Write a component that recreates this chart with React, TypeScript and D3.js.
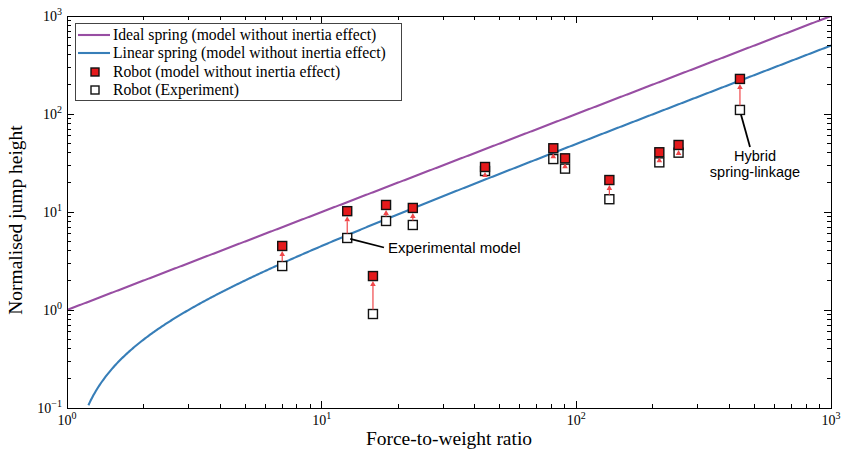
import React from "react";
import * as d3 from "d3";

// ---- data ----
const forceRatio = [7, 12.6, 15.9, 17.9, 22.8, 43.8, 81.2, 90.3, 134.8, 211.8, 252, 439];
const modelHeight = [4.5, 10.2, 2.22, 11.8, 11.0, 28.8, 44.7, 35.3, 21.2, 40.7, 48.3, 228];
const experimentHeight = [2.81, 5.43, 0.91, 8.1, 7.37, 26.2, 34.7, 27.7, 13.5, 32.1, 40.3, 110];
const xDecades = [0, 1, 2, 3];
const yDecades = [-1, 0, 1, 2, 3];
const legendLabels = [
  "Ideal spring (model without inertia effect)",
  "Linear spring (model without inertia effect)",
  "Robot (model without inertia effect)",
  "Robot (Experiment)",
];
// theoretical model curves (no inertia)
const idealSpring = (r: number) => r;
const linearSpring = (r: number) => (r - 1) / 2;

const W = 841, H = 454;
const L = 67, R = 831, T = 16, B = 408;
const PURPLE = "#984ea3", BLUE = "#377eb8", RED = "#e41a1c", ARROW = "#f0474a";
const SERIF = "Liberation Serif, DejaVu Serif, serif";
const SANS = "Liberation Sans, Arial, Helvetica, sans-serif";

export default function App() {
  const x = d3.scaleLog().domain([1, 1000]).range([L, R]);
  const y = d3.scaleLog().domain([0.1, 1000]).range([B, T]);

  const samples: number[] = [];
  for (let i = 0; i <= 600; i++) samples.push(Math.pow(10, (3 * i) / 600));
  const linSamples: number[] = [];
  for (let i = 0; i <= 600; i++) linSamples.push(1.2 * Math.pow(1000 / 1.2, i / 600));
  const line = d3.line<number>();
  const idealPath = line(samples.map((r) => [x(r), y(idealSpring(r))]));
  const linPath = line(
    linSamples.filter((r) => linearSpring(r) >= 0.1).map((r) => [x(r), y(linearSpring(r))])
  );

  const xMinor: number[] = [];
  for (let d = 0; d < 3; d++) for (let k = 2; k <= 9; k++) xMinor.push(k * Math.pow(10, d));
  const yMinor: number[] = [];
  for (let d = -1; d < 3; d++) for (let k = 2; k <= 9; k++) yMinor.push(k * Math.pow(10, d));

  const MS = 9;
  const majorLen = 7, minorLen = 4;

  const arrows = forceRatio.map((r, i) => {
    const px = x(r);
    const y1 = y(experimentHeight[i]) - MS / 2;
    const tip = y(modelHeight[i]) + MS / 2 + 0.5;
    return { px, y1, tip };
  });

  const expIdx = 1;
  const hybIdx = 11;

  return (
    <svg width={W} height={H} style={{ position: "absolute", left: 0, top: 0, background: "#fff" }}>
      <defs>
        <clipPath id="plot">
          <rect x={L} y={T} width={R - L} height={B - T} />
        </clipPath>
      </defs>
      <rect x={0} y={0} width={W} height={H} fill="#fff" />

      <g clipPath="url(#plot)" fill="none" strokeWidth={2.1}>
        <path d={idealPath || ""} stroke={PURPLE} />
        <path d={linPath || ""} stroke={BLUE} />
      </g>

      {forceRatio.map((r, i) => (
        <rect
          key={"e" + i}
          x={x(r) - MS / 2}
          y={y(experimentHeight[i]) - MS / 2}
          width={MS}
          height={MS}
          fill="#fff"
          stroke="#111"
          strokeWidth={1.4}
        />
      ))}

      {arrows.map((a, i) => {
        const hl = 5, hw = 2.8;
        const base = a.tip + hl;
        return (
          <g key={"a" + i}>
            {a.y1 > base && (
              <line x1={a.px} x2={a.px} y1={a.y1} y2={base} stroke={ARROW} strokeWidth={1.2} />
            )}
            <path d={`M${a.px},${a.tip} L${a.px - hw},${base} L${a.px + hw},${base} Z`} fill={ARROW} />
          </g>
        );
      })}

      {forceRatio.map((r, i) => (
        <rect
          key={"m" + i}
          x={x(r) - MS / 2}
          y={y(modelHeight[i]) - MS / 2}
          width={MS}
          height={MS}
          fill={RED}
          stroke="#111"
          strokeWidth={1.4}
        />
      ))}

      <line
        x1={x(forceRatio[expIdx]) + 3}
        y1={y(experimentHeight[expIdx]) + 1}
        x2={384}
        y2={247.5}
        stroke="#000"
        strokeWidth={1.8}
      />
      <text x={388} y={253} fontFamily={SANS} fontSize={15} fill="#000">
        Experimental model
      </text>
      <line
        x1={x(forceRatio[hybIdx]) + 1}
        y1={y(experimentHeight[hybIdx]) + MS / 2}
        x2={750}
        y2={147}
        stroke="#000"
        strokeWidth={1.8}
      />
      <text x={755} y={161} textAnchor="middle" fontFamily={SANS} fontSize={14.5} fill="#000">
        Hybrid
      </text>
      <text x={755} y={177} textAnchor="middle" fontFamily={SANS} fontSize={14.5} fill="#000">
        spring-linkage
      </text>

      <g stroke="#000" strokeWidth={1} shapeRendering="crispEdges">
        {xDecades.map((d) => {
          const px = x(Math.pow(10, d));
          return (
            <g key={"xt" + d}>
              <line x1={px} x2={px} y1={B} y2={B - majorLen} />
              <line x1={px} x2={px} y1={T} y2={T + majorLen} />
            </g>
          );
        })}
        {xMinor.map((v) => {
          const px = x(v);
          return (
            <g key={"xm" + v}>
              <line x1={px} x2={px} y1={B} y2={B - minorLen} />
              <line x1={px} x2={px} y1={T} y2={T + minorLen} />
            </g>
          );
        })}
        {yDecades.map((d) => {
          const py = y(Math.pow(10, d));
          return (
            <g key={"yt" + d}>
              <line x1={L} x2={L + majorLen} y1={py} y2={py} />
              <line x1={R} x2={R - majorLen} y1={py} y2={py} />
            </g>
          );
        })}
        {yMinor.map((v) => {
          const py = y(v);
          return (
            <g key={"ym" + v}>
              <line x1={L} x2={L + minorLen} y1={py} y2={py} />
              <line x1={R} x2={R - minorLen} y1={py} y2={py} />
            </g>
          );
        })}
        <rect x={L} y={T} width={R - L} height={B - T} fill="none" />
      </g>

      {xDecades.map((d) => (
        <text key={"xl" + d} x={x(Math.pow(10, d))} y={425} textAnchor="middle" fontFamily={SERIF} fontSize={14} fill="#000">
          10
          <tspan dy={-6} fontSize={10}>
            {d < 0 ? "\u2212" + Math.abs(d) : d}
          </tspan>
        </text>
      ))}
      {yDecades.map((d) => (
        <text key={"yl" + d} x={62} y={y(Math.pow(10, d)) + 5} textAnchor="end" fontFamily={SERIF} fontSize={14} fill="#000">
          10
          <tspan dy={-6} fontSize={10}>
            {d < 0 ? "\u2212" + Math.abs(d) : d}
          </tspan>
        </text>
      ))}

      <text x={449} y={445} textAnchor="middle" fontFamily={SERIF} fontSize={19.5} fill="#000">
        Force-to-weight ratio
      </text>
      <text
        transform={`translate(22,220) rotate(-90)`}
        textAnchor="middle"
        fontFamily={SERIF}
        fontSize={19.5}
        fill="#000"
      >
        Normalised jump height
      </text>

      <g>
        <rect x={75.5} y={23.5} width={326} height={77} fill="#fff" stroke="#444" strokeWidth={1} />
        {legendLabels.map((lab, i) => {
          const cy = [35, 53, 72, 90][i];
          return (
            <g key={"lg" + i}>
              {i === 0 && <line x1={78} x2={110} y1={cy} y2={cy} stroke={PURPLE} strokeWidth={2.1} />}
              {i === 1 && <line x1={78} x2={110} y1={cy} y2={cy} stroke={BLUE} strokeWidth={2.1} />}
              {i >= 2 && (
                <rect
                  x={95 - MS / 2 + 0.5}
                  y={cy - MS / 2 + 0.5}
                  width={MS - 1}
                  height={MS - 1}
                  fill={i === 2 ? RED : "#fff"}
                  stroke="#111"
                  strokeWidth={1.4}
                />
              )}
              <text x={113} y={cy + 5} fontFamily={SERIF} fontSize={15.7} fill="#000">
                {lab}
              </text>
            </g>
          );
        })}
      </g>
    </svg>
  );
}
